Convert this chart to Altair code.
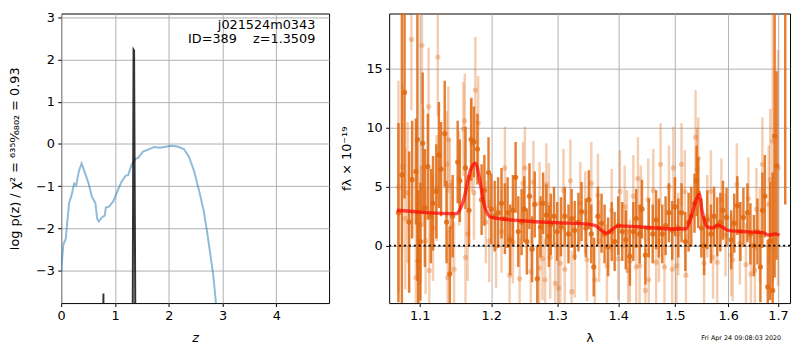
import altair as alt
import pandas as pd

# ---------------- left panel: log p(z) ----------------
pz_z = [0.0, 0.006, 0.04, 0.085, 0.147, 0.195, 0.24, 0.28, 0.33, 0.38, 0.44, 0.51, 0.57,
        0.635, 0.67, 0.70, 0.76, 0.81, 0.83, 0.89, 0.97, 1.03, 1.12, 1.20, 1.245, 1.31,
        1.38, 1.43, 1.52, 1.64, 1.73, 1.83, 1.92, 2.04, 2.16, 2.28, 2.375, 2.47, 2.56,
        2.65, 2.72, 2.78, 2.83, 2.875, 2.92]
pz_logp = [-3.05, -2.92, -2.39, -2.25, -1.40, -1.21, -0.94, -0.98, -0.64, -0.46, -0.68,
           -0.94, -1.25, -1.40, -1.78, -1.84, -1.74, -1.70, -1.51, -1.49, -1.36, -1.17,
           -0.90, -0.75, -0.74, -0.49, -0.35, -0.33, -0.18, -0.12, -0.07, -0.09, -0.07,
           -0.04, -0.06, -0.12, -0.30, -0.64, -1.09, -1.59, -2.16, -2.69, -3.15, -3.76, -4.44]

spike_z = [0.775, 0.785, 0.795, 1.325, 1.345, 1.355, 1.385]
spike_logp = [-6.0, -3.55, -6.0, -6.0, 2.24, 2.22, -6.0]

label_top = "j021524m0343"
label_bottom = "ID=389\u00a0\u00a0\u00a0\u00a0z=1.3509"

# ---------------- right panel: spectrum ----------------
dark_lam = [1.072, 1.0765, 1.080, 1.086, 1.090, 1.095, 1.097, 1.098, 1.101, 1.104, 1.107, 1.111,
            1.115, 1.118, 1.1225, 1.126, 1.129, 1.134, 1.1365, 1.141, 1.145, 1.152, 1.155,
            1.163, 1.168, 1.171, 1.175, 1.180, 1.186, 1.190, 1.196, 1.200, 1.205, 1.210,
            1.215, 1.220, 1.224, 1.228, 1.232, 1.236, 1.240, 1.245, 1.249, 1.253, 1.257,
            1.261, 1.265, 1.269, 1.274, 1.278, 1.283, 1.287, 1.290, 1.295, 1.300, 1.306,
            1.312, 1.318, 1.323, 1.328, 1.334, 1.339, 1.346, 1.351, 1.355, 1.359, 1.366,
            1.372, 1.377, 1.383, 1.389, 1.394, 1.400, 1.407, 1.413, 1.420, 1.426, 1.431,
            1.437, 1.441, 1.447, 1.453, 1.460, 1.466, 1.471, 1.477, 1.483, 1.489, 1.495,
            1.500, 1.506, 1.512, 1.519, 1.525, 1.530, 1.536, 1.540, 1.543, 1.549, 1.554,
            1.560, 1.567, 1.573, 1.579, 1.585, 1.590, 1.597, 1.606, 1.612, 1.618, 1.624,
            1.630, 1.638, 1.644, 1.651, 1.658, 1.664, 1.668, 1.673, 1.679, 1.684, 1.689,
            1.693, 1.697, 1.715]
dark_flux = [2.8, 6.0, 13.0, 2.0, 5.6, 6.3, 9.0, -1.3, 0.35, 8.7, 3.2, 6.7,
             2.5, 3.6, 4.6, 7.7, 6.5, 9.5, 2.0, -2.4, 2.5, 7.1, 5.5,
             6.6, 3.0, 9.0, 8.8, 8.2, 3.9, 4.7, 6.2, 3.1, 2.5, 2.8,
             3.6, 2.3, 2.8, 0.5, 3.0, 5.8, 1.2, 2.0, 3.1, 0.35, 4.2,
             -0.3, 3.5, -2.8, 1.6, 3.6, 2.6, 0.8, 1.8, 2.5, 1.2, 1.6,
             2.5, 1.0, 2.3, 1.3, 2.0, 2.9, 1.5, 3.9, 1.0, -1.8, 2.5,
             1.9, 1.0, -0.1, 1.2, 0.35, 1.7, 1.2, 0.5, -0.9, 1.2, 2.3,
             1.0, 3.1, -0.8, 1.5, 1.0, 2.2, 1.5, 1.0, 1.7, 2.8, 1.3,
             3.3, 1.5, 2.8, 0.35, 2.0, 2.5, 3.6, 5.5, 4.5, 1.5, 0.0,
             2.2, 1.0, 2.5, 1.6, 2.0, 3.0, 2.4, 0.5, 1.9, 3.4, 1.2,
             2.4, 2.8, 1.0, 0.0, 1.2, -1.8, 3.0, 4.2, -3.5, 0.4, -3.8,
             9.3, 6.8, 22.0]
dark_err = [7.6, 14.0, 9.0, 6.0, 5.0, 4.5, 12.0, 6.0, 5.0, 6.0, 5.0, 4.5,
            4.0, 4.0, 4.0, 4.5, 4.0, 4.5, 3.5, 4.0, 3.5, 3.5, 3.5,
            3.5, 3.0, 3.5, 3.0, 3.0, 3.0, 3.0, 3.0, 3.0, 3.0, 3.0,
            3.0, 3.0, 3.0, 3.0, 3.0, 3.0, 3.0, 2.8, 2.8, 2.8, 2.8,
            2.8, 2.8, 2.8, 2.6, 2.6, 2.6, 2.6, 2.6, 2.5, 2.5, 2.5,
            2.5, 2.5, 2.5, 2.5, 2.5, 2.5, 2.5, 2.5, 2.5, 2.5, 2.5,
            2.5, 2.5, 2.5, 2.5, 2.5, 2.5, 2.5, 2.5, 2.5, 2.5, 2.5,
            2.5, 2.5, 2.5, 2.5, 2.5, 2.5, 2.5, 2.5, 2.5, 2.5, 2.5,
            2.5, 2.5, 2.5, 2.5, 2.5, 2.5, 2.5, 3.0, 3.0, 2.5, 2.5,
            2.5, 2.5, 2.5, 2.5, 2.5, 2.5, 2.5, 2.5, 2.5, 2.5, 2.5,
            2.5, 2.5, 2.6, 2.6, 2.8, 3.0, 3.2, 3.5, 4.0, 5.0, 10.0,
            12.0, 8.0, 18.5]

light_lam = [1.072, 1.077, 1.081, 1.084, 1.089, 1.095, 1.098, 1.1015, 1.103, 1.105, 1.108, 1.112,
             1.113, 1.118, 1.123, 1.1245, 1.137, 1.138, 1.139, 1.141, 1.143, 1.147, 1.154,
             1.160, 1.162, 1.163, 1.166, 1.172, 1.175, 1.177, 1.181, 1.192, 1.197, 1.207,
             1.215, 1.220, 1.227, 1.232, 1.242, 1.247, 1.250, 1.259, 1.263, 1.272, 1.2725,
             1.277, 1.281, 1.283, 1.287, 1.289, 1.297, 1.302, 1.305, 1.310, 1.312, 1.321,
             1.323, 1.328, 1.337, 1.345, 1.348, 1.355, 1.361, 1.366, 1.368, 1.381, 1.389,
             1.400, 1.403, 1.411, 1.415, 1.417, 1.420, 1.426, 1.431, 1.434, 1.437, 1.439,
             1.447, 1.452, 1.453, 1.461, 1.466, 1.471, 1.474, 1.481, 1.489, 1.495, 1.497,
             1.503, 1.506, 1.512, 1.518, 1.520, 1.538, 1.541, 1.543, 1.554, 1.560, 1.567,
             1.571, 1.579, 1.587, 1.595, 1.606, 1.609, 1.617, 1.623, 1.635, 1.640, 1.645,
             1.653, 1.656, 1.663, 1.668, 1.681, 1.684, 1.689, 1.700]
light_flux = [5.0, 6.7, 2.3, 4.5, 17.5, -2.7, -1.8, 1.8, 17.0, 6.6, 0.4, 11.8,
              -2.1, 1.5, 4.9, 16.0, 6.9, -2.7, 9.0, 5.1, 1.6, -2.0, 5.7,
              9.9, 10.6, -1.0, 1.0, 8.6, 4.5, 13.2, 10.4, 2.0, 0.4, -0.1,
              1.2, 6.6, -2.5, 0.3, -2.8, 5.3, 6.6, -2.2, 5.4, -1.9, 3.6,
              -1.1, -2.9, 5.2, 3.5, -1.0, -3.2, -3.6, -1.5, 4.7, -2.0, 5.5,
              -3.9, -0.9, 3.6, 2.8, -1.2, 5.3, -2.9, 4.3, 0.4, -1.7, 3.0,
              -1.1, 4.6, 3.3, 1.2, -2.1, -1.3, 4.2, -1.8, 5.7, -1.7, 3.3,
              -3.8, 3.9, -2.9, 4.7, -1.4, 0.4, 6.9, -1.8, 5.0, -2.0, 6.6,
              -1.7, 1.0, 6.9, 4.6, -2.5, 9.2, 6.5, 7.4, -1.5, 2.5, 4.6,
              -1.0, -1.4, 3.9, 0.9, -0.8, -1.2, 5.2, 0.2, -1.6, 4.0, -2.4,
              -2.1, 3.1, 0.9, 6.9, 3.5, 5.6, 8.9, 6.6]
light_err = [9.0, 7.0, 6.0, 6.0, 6.0, 5.0, 5.0, 5.0, 5.0, 5.0, 4.5, 5.0,
             4.5, 4.5, 4.5, 5.0, 4.5, 4.0, 4.5, 4.0, 4.0, 4.0, 4.0,
             4.0, 4.0, 4.0, 4.0, 4.0, 4.0, 4.5, 4.0, 3.5, 3.5, 3.5,
             3.5, 3.5, 3.5, 3.5, 3.5, 3.5, 3.5, 3.5, 3.5, 3.5, 3.5,
             3.5, 3.5, 3.5, 3.5, 3.5, 3.5, 3.5, 3.5, 3.5, 3.5, 3.5,
             3.5, 3.5, 3.5, 3.5, 3.5, 3.5, 3.5, 3.5, 3.5, 3.5, 3.5,
             3.5, 3.5, 3.5, 3.5, 3.5, 3.5, 3.5, 3.5, 3.5, 3.5, 3.5,
             3.5, 3.5, 3.5, 3.5, 3.5, 3.5, 3.5, 3.5, 3.5, 3.5, 3.5,
             3.5, 3.5, 3.5, 3.5, 3.5, 4.0, 3.5, 3.5, 3.5, 3.5, 3.5,
             3.5, 3.5, 3.5, 3.5, 3.5, 3.5, 3.5, 3.5, 3.5, 3.5, 3.5,
             3.5, 3.5, 4.0, 4.0, 5.0, 6.0, 12.0, 10.0]

model_lam = [1.07, 1.10, 1.15, 1.16, 1.17, 1.177, 1.185, 1.19, 1.20, 1.25, 1.30, 1.35,
             1.362, 1.372, 1.381, 1.39, 1.40, 1.45, 1.50, 1.52, 1.53, 1.54, 1.545, 1.55,
             1.56, 1.57, 1.58, 1.60, 1.65, 1.67, 1.68, 1.695, 1.703]
model_flux = [3.0, 2.85, 2.72, 3.8, 6.4, 7.0, 5.0, 3.4, 2.4, 2.1, 1.95, 1.82,
              1.7, 1.3, 1.05, 1.4, 1.68, 1.55, 1.42, 1.43, 2.5, 4.0, 4.35, 3.0,
              1.6, 1.5, 1.76, 1.3, 1.15, 1.1, 0.9, 1.0, 0.88]

timestamp = "Fri Apr 24 09:08:03 2020"

ORANGE = "#e0680f"
FONT = "DejaVu Sans"
H = 294

# ---------------- build left panel ----------------
pz_df = pd.DataFrame({"z": pz_z, "logp": pz_logp})
spike_df = pd.DataFrame({"z": spike_z, "logp": spike_logp})

zscale = alt.Scale(domain=[0, 4.98], nice=False, zero=False)
lpscale = alt.Scale(domain=[-3.78, 3.1], nice=False, zero=False)

xl = alt.X("z:Q", scale=zscale,
           axis=alt.Axis(values=[0, 1, 2, 3, 4], title="z", titleFontStyle="italic",
                         titlePadding=9))
yl = alt.Y("logp:Q", scale=lpscale,
           axis=alt.Axis(values=[-3, -2, -1, 0, 1, 2, 3],
                         title="log p(z) / χ² = ⁶³⁵⁰⁄₆₈₀₂ = 0.93",
                         minExtent=28, maxExtent=28, titlePadding=12))

blue = alt.Chart(pz_df).mark_line(color="#1f77b4", opacity=0.5, strokeWidth=2, clip=True).encode(
    x=xl, y=yl)
spike = alt.Chart(spike_df).mark_line(color="black", opacity=0.8, strokeWidth=2, clip=True).encode(
    x=alt.X("z:Q", scale=zscale), y=alt.Y("logp:Q", scale=lpscale))
lab1 = alt.Chart(pd.DataFrame({"t": [label_top]})).mark_text(
    align="right", baseline="middle", fontSize=13, font=FONT, color="black").encode(
    x=alt.value(258), y=alt.value(12), text="t:N")
lab2 = alt.Chart(pd.DataFrame({"t": [label_bottom]})).mark_text(
    align="right", baseline="middle", fontSize=13, font=FONT, color="black").encode(
    x=alt.value(258), y=alt.value(26), text="t:N")

left = alt.layer(blue, spike, lab1, lab2).properties(width=272, height=H)

# ---------------- build right panel ----------------
dark_df = pd.DataFrame({"lam": dark_lam, "flux": dark_flux, "err": dark_err})
light_df = pd.DataFrame({"lam": light_lam, "flux": light_flux, "err": light_err})
model_df = pd.DataFrame({"lam": model_lam, "flux": model_flux})

lscale = alt.Scale(type="log", domain=[1.06, 1.725], nice=False)
fscale = alt.Scale(domain=[-4.87, 19.7], nice=False, zero=False)

xr = alt.X("lam:Q", scale=lscale,
           axis=alt.Axis(values=[1.1, 1.2, 1.3, 1.4, 1.5, 1.6, 1.7], format=".1f",
                         title="λ", titlePadding=9))
yr = alt.Y("flux:Q", scale=fscale,
           axis=alt.Axis(values=[0, 5, 10, 15], title="fλ × 10⁻¹⁹",
                         minExtent=24, maxExtent=24, titlePadding=12))


def bars(df, op):
    return alt.Chart(df).transform_calculate(
        lo="datum.flux - datum.err", hi="datum.flux + datum.err"
    ).mark_rule(color=ORANGE, opacity=op, strokeWidth=2.5, clip=True).encode(
        x=alt.X("lam:Q", scale=lscale),
        y=alt.Y("lo:Q", scale=fscale),
        y2="hi:Q")


def dots(df, op):
    return alt.Chart(df).mark_circle(color=ORANGE, opacity=op, size=28, clip=True).encode(
        x=alt.X("lam:Q", scale=lscale), y=alt.Y("flux:Q", scale=fscale))


light_b = bars(light_df, 0.32)
light_d = dots(light_df, 0.32)
dark_b = bars(dark_df, 0.85)
dark_d = dots(dark_df, 0.85)

model = alt.Chart(model_df).mark_line(color="red", opacity=0.7, strokeWidth=3.5,
                                      interpolate="monotone", clip=True).encode(x=xr, y=yr)
zero = alt.Chart(pd.DataFrame({"v": [0]})).mark_rule(color="black", strokeDash=[2, 3],
                                                      strokeWidth=1.8).encode(
    y=alt.Y("v:Q", scale=fscale))
stamp = alt.Chart(pd.DataFrame({"t": [timestamp]})).mark_text(
    align="right", baseline="middle", fontSize=6.5, font=FONT, color="black").encode(
    x=alt.value(398), y=alt.value(H + 35), text="t:N")

right = alt.layer(light_b, light_d, dark_b, dark_d, model, zero, stamp).properties(
    width=407, height=H)

chart = alt.hconcat(left, right, spacing=10).properties(
    padding={"left": 0, "top": 0, "right": 0, "bottom": 0}
).configure(font=FONT).configure_view(
    stroke="black", strokeWidth=1
).configure_axis(
    grid=True, gridColor="#b0b0b0", gridWidth=1, domain=False,
    tickColor="black", tickSize=3.5, tickWidth=1, labelPadding=3.5,
    labelFontSize=13, labelColor="black", titleFontSize=13, titleFontWeight="normal",
    titleColor="black", labelFlush=False, labelFont=FONT, titleFont=FONT
)

chart.save("out.html", embed_options={"renderer": "svg", "actions": False})
